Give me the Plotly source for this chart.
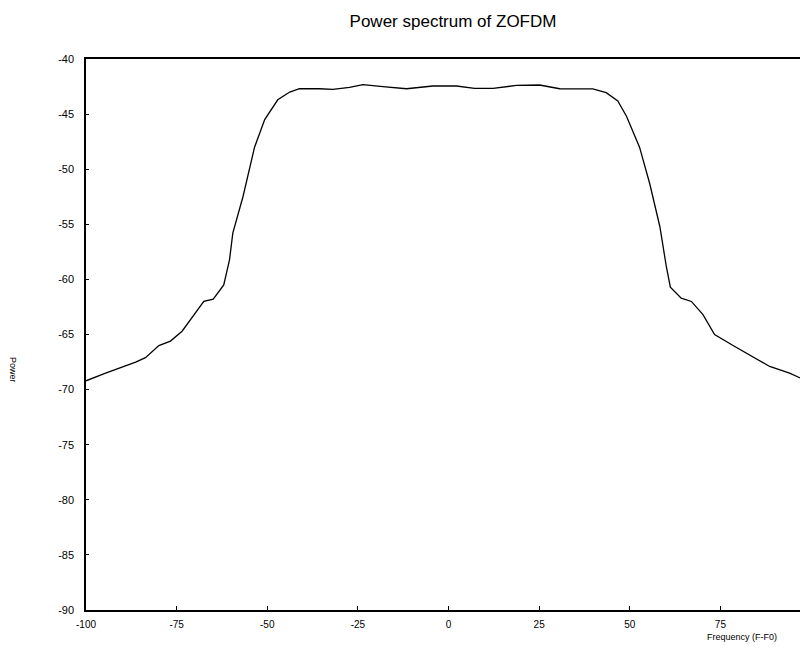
import plotly.graph_objects as go

# spectrum
freq = [-100, -94.6, -86.3, -83.6, -79.9, -76.7, -73.5, -69.3, -67.5, -64.9, -62.0,
        -60.4, -59.5, -56.7, -53.5, -50.7, -47.1, -43.8, -41.1, -35.6, -31.9, -27.3,
        -23.6, -18.1, -11.6, -4.3, 2.2, 7.2, 12.3, 18.7, 25.1, 30.7, 39.8, 43.5, 46.7,
        49.1, 52.7, 55.5, 58.3, 60.1, 61.2, 64.2, 67.0, 70.2, 73.4, 78.5, 83.1, 88.6,
        94.1, 98.7, 100]
power = [-69.2, -68.5, -67.5, -67.1, -66.0, -65.6, -64.7, -62.8, -62.0, -61.8, -60.5,
         -58.2, -55.8, -52.5, -48.0, -45.5, -43.7, -43.0, -42.7, -42.7, -42.75, -42.57,
         -42.33, -42.5, -42.7, -42.45, -42.45, -42.66, -42.66, -42.4, -42.36, -42.7,
         -42.72, -43.06, -43.8, -45.2, -48.0, -51.3, -55.2, -58.85, -60.7, -61.7, -62.0,
         -63.2, -65.0, -66.0, -66.9, -67.9, -68.5, -69.2, -69.4]

x_ticks = [-100, -75, -50, -25, 0, 25, 50, 75, 100]
y_ticks = [-40, -45, -50, -55, -60, -65, -70, -75, -80, -85, -90]

# the page body adds an 8px offset, so the layout is shifted back by that much
OFF = 8
L, T, B, R = 86 - OFF, 59 - OFF, 610 - OFF, 811 - OFF

fig = go.Figure(go.Scatter(x=freq, y=power, mode="lines",
                           line=dict(color="black", width=1.3),
                           hoverinfo="skip"))

fig.update_layout(
    width=808, height=648,
    margin=dict(l=L, r=808 - R, t=T, b=648 - B, autoexpand=False),
    paper_bgcolor="white", plot_bgcolor="white",
    showlegend=False,
    font=dict(family="Arial, Liberation Sans", color="black", size=11),
    title=dict(text="Power spectrum of ZOFDM", x=(453 - OFF) / 808, xanchor="center",
               y=1 - (21 - OFF) / 648, yanchor="middle",
               font=dict(size=17, family="Arial, Liberation Sans")),
)

# plain hyphens, as in the reference, instead of unicode minus
fig.update_xaxes(range=[-100, 100], tickvals=x_ticks,
                 ticktext=[str(v) for v in x_ticks], ticks="inside", ticklen=4,
                 tickcolor="black", showgrid=False, zeroline=False, automargin=False,
                 showline=True, linecolor="black", linewidth=1.5, mirror=True,
                 ticklabeloverflow="allow", ticklabelstandoff=4,
                 tickfont=dict(size=10))
fig.update_yaxes(range=[-90, -40], tickvals=y_ticks,
                 ticktext=[str(v) for v in y_ticks], ticks="inside", ticklen=3,
                 tickcolor="black", showgrid=False, zeroline=False, automargin=False,
                 showline=True, linecolor="black", linewidth=1.5, mirror=True,
                 ticklabelstandoff=8, tickfont=dict(size=11))

fig.add_annotation(text="Power", textangle=90, x=13, y=370, xref="paper",
                   yref="paper", showarrow=False, font=dict(size=9),
                   xanchor="center", yanchor="middle")
fig.add_annotation(text="Frequency (F-F0)", x=742, y=637, showarrow=False,
                   font=dict(size=9), xref="paper", yref="paper",
                   xanchor="center", yanchor="middle")

# annotations positioned in screen pixels: convert to paper coordinates
for ann in fig.layout.annotations:
    px, py = ann.x - OFF, ann.y - OFF
    ann.x = (px - L) / (R - L)
    ann.y = (B - py) / (B - T)

fig.write_html("out.html")
